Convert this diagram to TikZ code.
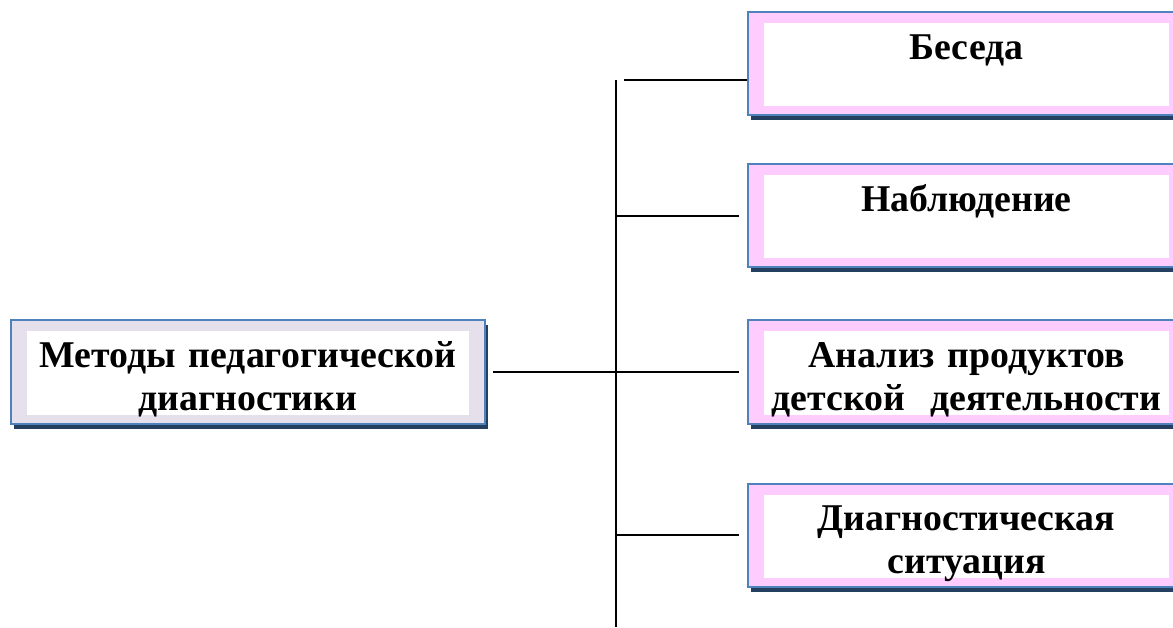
\documentclass[tikz,border=0pt]{standalone}
\usepackage{fontspec}
\setmainfont{Liberation Serif}
\usepackage{tikz}
\usetikzlibrary{shadows}
\definecolor{boxblue}{HTML}{4F81BD}
\definecolor{boxpink}{HTML}{FFCCFF}
\definecolor{boxlilac}{HTML}{E5E0EC}
\definecolor{shadownavy}{HTML}{243F60}
\tikzset{
  methodbox/.style={draw=boxblue, line width=2pt, fill=#1, inner xsep=0pt, inner ysep=0pt,
    text height=47pt, text depth=56pt, align=center,
    font=\fontsize{37.8}{43}\selectfont\bfseries,
    drop shadow={shadow xshift=3pt, shadow yshift=-5pt, fill=shadownavy, opacity=1},
    path picture={\fill[white] ([xshift=16pt,yshift=-11pt]path picture bounding box.north west)
      rectangle ([xshift=-16pt,yshift=9pt]path picture bounding box.south east);}},
  branch/.style={line width=1.5pt}
}

\begin{document}
\begin{tikzpicture}[x=1pt, y=-1pt]
\useasboundingbox (0,0) rectangle (1173,628);
\node[methodbox=boxlilac, text width=474pt](methods) at (248,372) {Методы педагогической\\диагностики};
\node[methodbox=boxpink, text width=437pt](beseda) at (966.5,64) {Беседа};
\node[methodbox=boxpink, text width=437pt](nabl) at (966.5,216) {Наблюдение};
\node[methodbox=boxpink, text width=437pt](analiz) at (966.5,372) {Анализ продуктов\\детской~ деятельности};
\node[methodbox=boxpink, text width=437pt](diag) at (966.5,535) {Диагностическая\\ситуация};
%
\coordinate(spinetop) at (616,80);
\coordinate(spinebot) at (616,627);
\draw[branch](spinetop) -- (spinebot);
\draw[branch]([xshift=8pt]spinetop) -- (spinetop -| beseda.west);
\draw[branch, shorten <=7pt, shorten >=8pt](methods.east) -- (analiz.west);
\foreach \b in {nabl, diag}
  \draw[branch, shorten >=8pt](spinetop |- \b.west) -- (\b.west);
\end{tikzpicture}
\end{document}
